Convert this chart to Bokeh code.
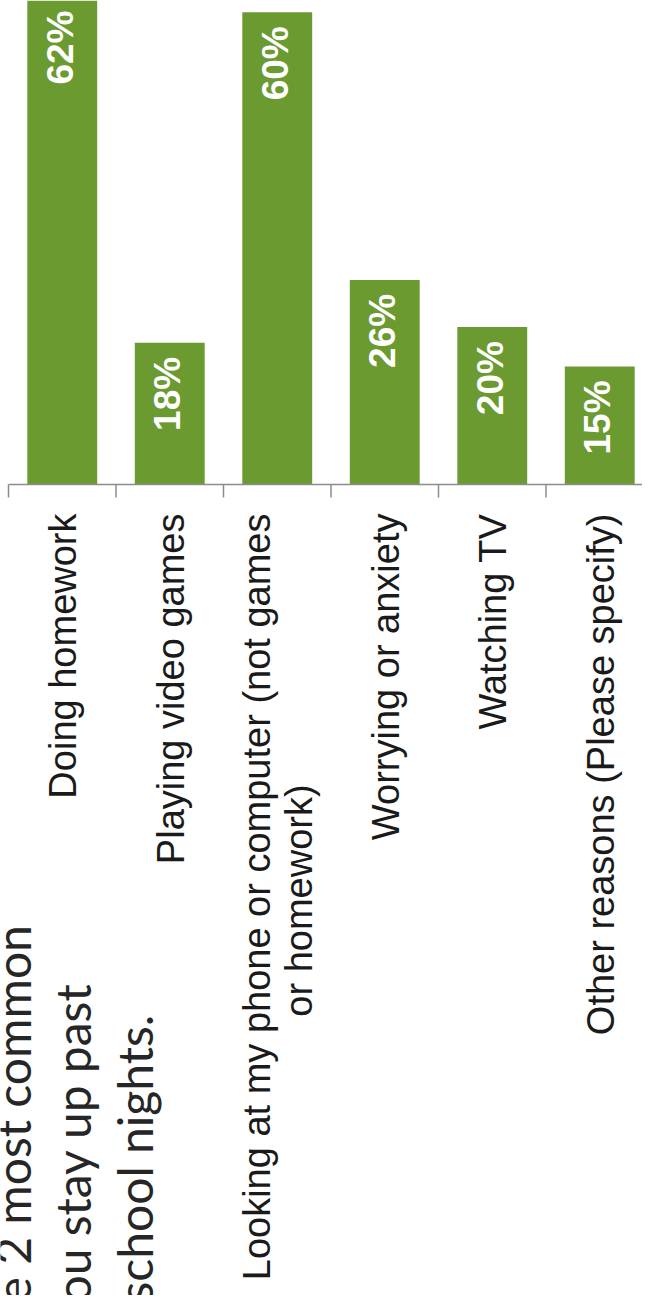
import numpy as np
from math import pi
from bokeh.plotting import figure
from bokeh.models import Range1d, Label
from bokeh.core.properties import value
from bokeh.embed import file_html
from bokeh.resources import INLINE

# ---- data ----
categories = [
    "Doing homework",
    "Playing video games",
    "Looking at my phone or computer (not games\nor homework)",
    "Worrying or anxiety",
    "Watching TV",
    "Other reasons (Please specify)",
]
percent = [62, 18, 60, 26, 20, 15]
value_labels = ["62%", "18%", "60%", "26%", "20%", "15%"]
title_lines = ["e 2 most common", "ou stay up past", "school nights."]

# ---- layout constants (pixels) ----
W, H = 642, 1295
CAT_PX = 107.5          # width of one category slot
X0_PX = 8               # left edge of first category slot
PX_PER_PCT = 7.87       # vertical pixels per percentage point
BASE_PX = 484           # distance of the baseline from the top of the frame
GREEN = "#6b9a31"
AXIS_GREY = "#8c8c8c"
TEXT = "#1a1a1a"

n = len(categories)
xs = np.arange(n) + 0.5

p = figure(width=W, height=H, output_backend="svg", toolbar_location=None,
           x_range=Range1d(-X0_PX / CAT_PX, (W - X0_PX) / CAT_PX),
           y_range=Range1d(-(H - BASE_PX) / PX_PER_PCT, BASE_PX / PX_PER_PCT),
           x_axis_type=None, y_axis_type=None,
           min_border=0, outline_line_color=None,
           background_fill_color="white", border_fill_color="white")
p.grid.visible = False

# bars
p.vbar(x=xs, top=percent, bottom=0, width=0.65, fill_color=GREEN, line_color=None)

# axis baseline and tick marks
p.segment(x0=[0], y0=[0], x1=[n], y1=[0], line_color=AXIS_GREY, line_width=1.5)
bounds = np.arange(n + 1)
p.segment(x0=bounds, y0=np.zeros(n + 1), x1=bounds,
          y1=np.full(n + 1, -13 / PX_PER_PCT), line_color=AXIS_GREY, line_width=1.5)

# value labels inside bars
p.text(x=xs - 2 / CAT_PX, y=np.array(percent) - 14 / PX_PER_PCT, text=value_labels,
       angle=pi / 2, text_align="right", text_baseline="alphabetic",
       text_color="white", text_font=value("Liberation Sans"),
       text_font_style="bold", text_font_size="37px")

# category labels (rotated, below the baseline)
LABEL_GAP = 29
LINE_STEP = 42
FIRST_LINE_HALF = 387
for i, cat in enumerate(categories):
    lines = cat.split("\n")
    k = len(lines)
    for j, line in enumerate(lines):
        off = 1 + (j - (k - 1) / 2) * LINE_STEP
        xx = xs[i] + off / CAT_PX
        if j == 0:
            yy = -LABEL_GAP / PX_PER_PCT
            align = "right"
        else:
            yy = -(LABEL_GAP + FIRST_LINE_HALF) / PX_PER_PCT
            align = "center"
        p.text(x=[xx], y=[yy], text=[line], angle=pi / 2, text_align=align,
               text_baseline="alphabetic", text_color=TEXT,
               text_font=value("Liberation Sans"), text_font_size="38px")

# cut-off title at the bottom left
title_base_px = [12, 72, 134]
title_start_px = 1302
for line, bx in zip(title_lines, title_base_px):
    p.add_layout(Label(x=(bx - X0_PX) / CAT_PX, y=-(title_start_px - BASE_PX) / PX_PER_PCT,
                       text=line, angle=pi / 2, text_align="left",
                       text_baseline="alphabetic", text_color="#262626",
                       text_font="Lato", text_font_size="48px"))

open("out.html", "w").write(file_html(p, INLINE))
